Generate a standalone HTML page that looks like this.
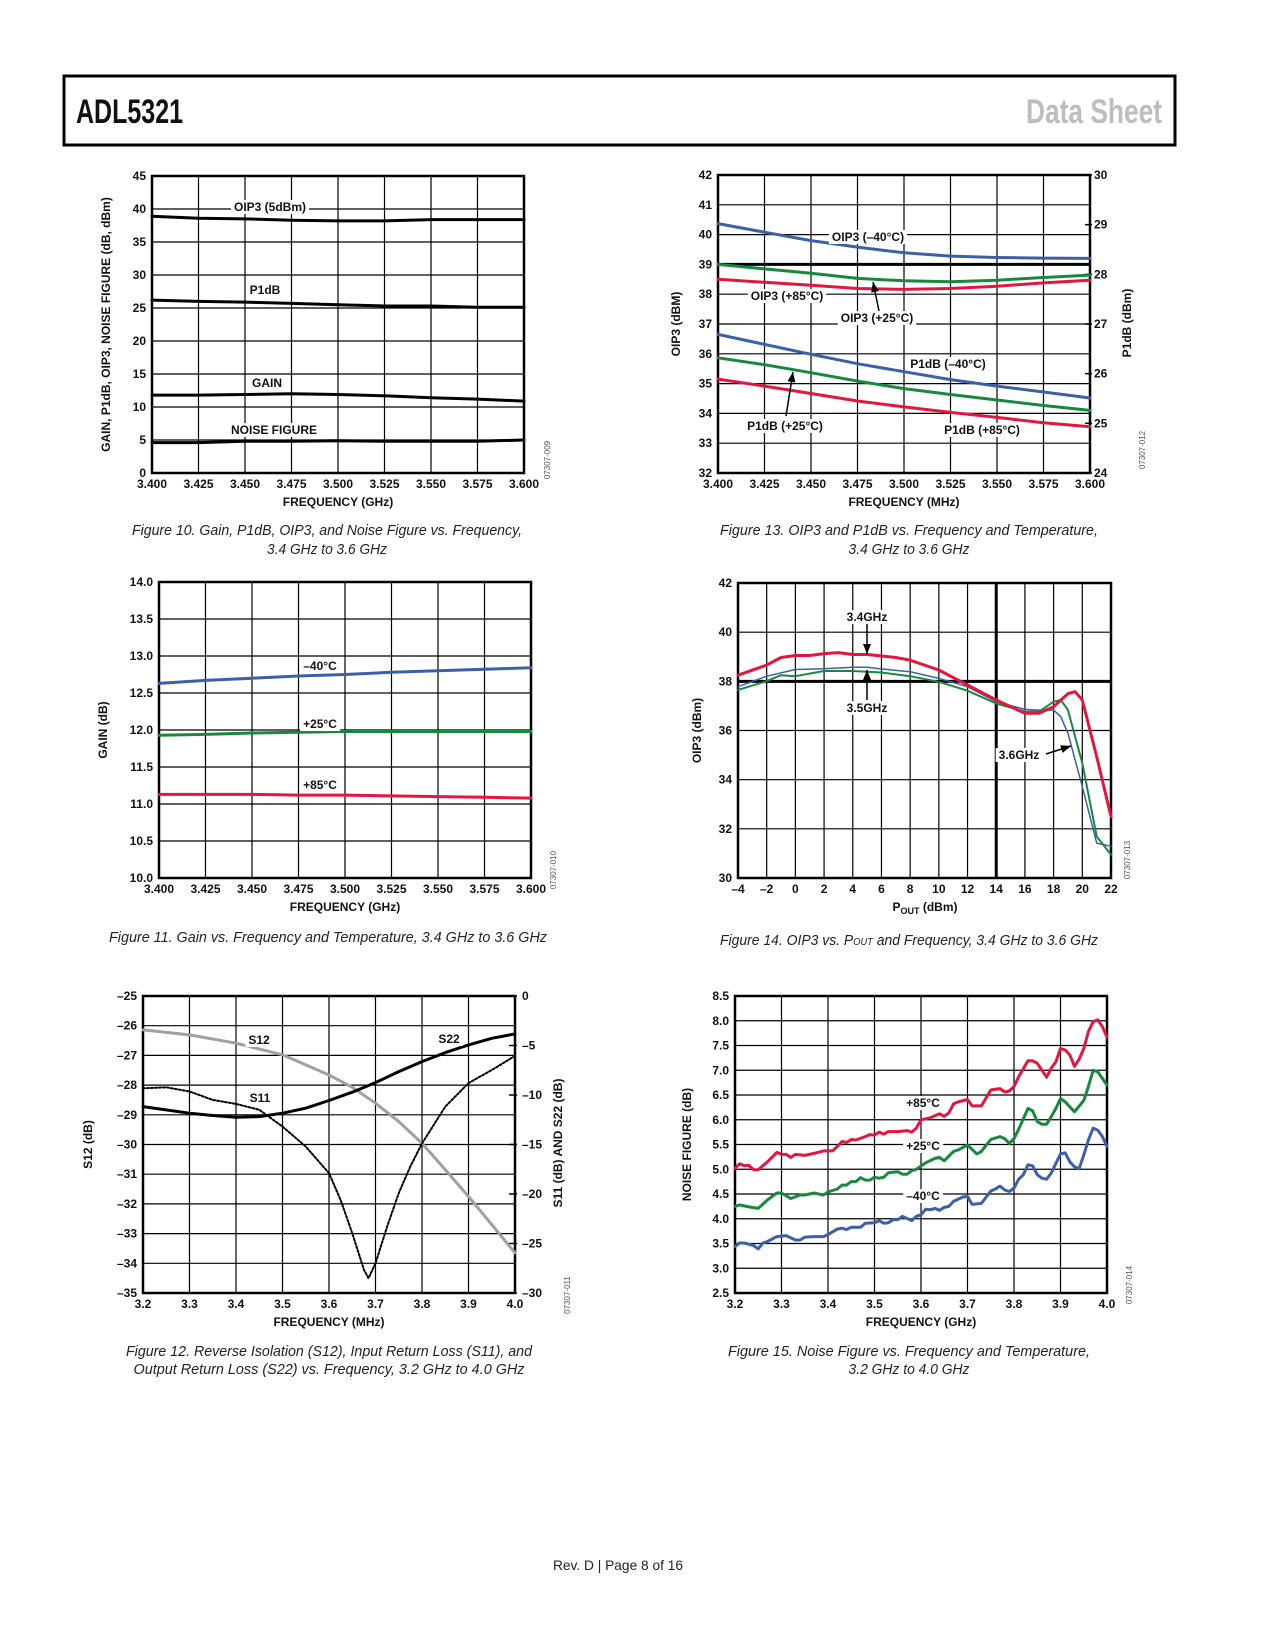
<!DOCTYPE html>
<html><head><meta charset="utf-8">
<style>
html,body{margin:0;padding:0;background:#fff;}
svg{display:block;font-family:"Liberation Sans",Arial,sans-serif;}
.tk{font-size:12px;font-weight:bold;fill:#111;}
.ttl{font-size:12px;font-weight:bold;fill:#111;}
.lbl{font-size:12px;font-weight:bold;fill:#111;}
.cap{font-size:15px;font-style:italic;fill:#222;}
.code{font-size:8px;fill:#555;}
</style></head>
<body>
<svg id="page" width="1275" height="1650" viewBox="0 0 1275 1650" xmlns="http://www.w3.org/2000/svg">
<rect x="0" y="0" width="1275" height="1650" fill="#fff"/>
<g>
<rect x="64" y="76" width="1111" height="69" fill="none" stroke="#000" stroke-width="3"/>
<text x="76" y="123" font-size="34" font-weight="bold" textLength="107" lengthAdjust="spacingAndGlyphs" fill="#111">ADL5321</text>
<text x="1026" y="123" font-size="34" font-weight="bold" textLength="136" lengthAdjust="spacingAndGlyphs" fill="#bdbdbd">Data Sheet</text>
</g>
<text x="618" y="1570" text-anchor="middle" font-size="14" textLength="130" lengthAdjust="spacingAndGlyphs" fill="#222">Rev. D | Page 8 of 16</text>

<g>
<text class="cap" x="327" y="535" text-anchor="middle" textLength="390" lengthAdjust="spacingAndGlyphs">Figure 10. Gain, P1dB, OIP3, and Noise Figure vs. Frequency,</text>
<text class="cap" x="327" y="554" text-anchor="middle" textLength="120" lengthAdjust="spacingAndGlyphs">3.4 GHz to 3.6 GHz</text>
</g>
<g>
<text class="cap" x="909" y="535" text-anchor="middle" textLength="378" lengthAdjust="spacingAndGlyphs">Figure 13. OIP3 and P1dB vs. Frequency and Temperature,</text>
<text class="cap" x="909" y="554" text-anchor="middle" textLength="121" lengthAdjust="spacingAndGlyphs">3.4 GHz to 3.6 GHz</text>
</g>
<g>
<text class="cap" x="328" y="942" text-anchor="middle" textLength="438" lengthAdjust="spacingAndGlyphs">Figure 11. Gain vs. Frequency and Temperature, 3.4 GHz to 3.6 GHz</text>
</g>
<g>
<text class="cap" x="909" y="945" text-anchor="middle" textLength="378" lengthAdjust="spacingAndGlyphs">Figure 14. OIP3 vs. P<tspan font-size="10">OUT</tspan> and Frequency, 3.4 GHz to 3.6 GHz</text>
</g>
<g>
<text class="cap" x="329" y="1356" text-anchor="middle" textLength="406" lengthAdjust="spacingAndGlyphs">Figure 12. Reverse Isolation (S12), Input Return Loss (S11), and</text>
<text class="cap" x="329" y="1374" text-anchor="middle" textLength="391" lengthAdjust="spacingAndGlyphs">Output Return Loss (S22) vs. Frequency, 3.2 GHz to 4.0 GHz</text>
</g>
<g>
<text class="cap" x="909" y="1356" text-anchor="middle" textLength="362" lengthAdjust="spacingAndGlyphs">Figure 15. Noise Figure vs. Frequency and Temperature,</text>
<text class="cap" x="909" y="1374" text-anchor="middle" textLength="121" lengthAdjust="spacingAndGlyphs">3.2 GHz to 4.0 GHz</text>
</g>
</svg>
<script>
// ---------- Figure 10 data ----------
const fig10Freq = [3.400,3.425,3.450,3.475,3.500,3.525,3.550,3.575,3.600];
const fig10Oip3 = [38.9,38.6,38.5,38.3,38.2,38.2,38.4,38.4,38.4];
const fig10P1db = [26.2,26.0,25.9,25.7,25.5,25.3,25.3,25.1,25.1];
const fig10Gain = [11.8,11.8,11.9,12.0,11.9,11.7,11.4,11.2,10.9];
const fig10Nf   = [4.6,4.6,4.8,4.8,4.9,4.8,4.8,4.8,5.0];
const fig10XTicks = [3.400,3.425,3.450,3.475,3.500,3.525,3.550,3.575,3.600];
const fig10YTicks = [0,5,10,15,20,25,30,35,40,45];

// ---------- Figure 13 data ----------
const fig13Freq = [3.400,3.425,3.450,3.475,3.500,3.525,3.550,3.575,3.600];
const fig13Oip3M40 = [40.37,40.08,39.8,39.58,39.39,39.28,39.23,39.21,39.2];
const fig13Oip3P25 = [39.0,38.85,38.7,38.53,38.45,38.42,38.47,38.56,38.64];
const fig13Oip3P85 = [38.5,38.4,38.3,38.19,38.16,38.19,38.27,38.38,38.47];
const fig13P1dbM40 = [26.79,26.59,26.39,26.2,26.04,25.88,25.75,25.63,25.51];
const fig13P1dbP25 = [26.32,26.18,26.02,25.85,25.7,25.58,25.47,25.36,25.26];
const fig13P1dbP85 = [25.89,25.75,25.6,25.45,25.33,25.22,25.12,25.01,24.93];
const fig13XTicks = [3.400,3.425,3.450,3.475,3.500,3.525,3.550,3.575,3.600];
const fig13YTicks = [32,33,34,35,36,37,38,39,40,41,42];
const fig13Y2Ticks = [24,25,26,27,28,29,30];

// ---------- Figure 11 data ----------
const fig11Freq = [3.400,3.425,3.450,3.475,3.500,3.525,3.550,3.575,3.600];
const fig11GainM40 = [12.63,12.67,12.70,12.73,12.75,12.78,12.80,12.82,12.84];
const fig11GainP25 = [11.93,11.94,11.96,11.97,11.98,11.98,11.98,11.98,11.98];
const fig11GainP85 = [11.13,11.13,11.13,11.12,11.12,11.11,11.10,11.09,11.08];
const fig11XTicks = [3.400,3.425,3.450,3.475,3.500,3.525,3.550,3.575,3.600];
const fig11YTicks = [10.0,10.5,11.0,11.5,12.0,12.5,13.0,13.5,14.0];

// ---------- Figure 14 data ----------
const fig14PoutRed = [-4,-2,-1,0,1,2,3,4,5,6,7,8,10,12,14,16,17,18,19,19.5,20,21,22];
const fig14Oip3Red = [38.25,38.66,38.97,39.05,39.05,39.13,39.17,39.09,39.09,39.03,38.97,38.86,38.46,37.85,37.24,36.7,36.7,36.97,37.5,37.58,37.24,34.94,32.5];
const fig14PoutBlue = [-4,-2,0,2,4,5,6,8,10,12,14,16,17,18,18.5,19,20,21,22];
const fig14Oip3Blue = [37.78,38.21,38.48,38.51,38.57,38.57,38.5,38.39,38.12,37.78,37.17,36.86,36.83,36.83,36.56,35.88,33.72,31.42,31.29];
const fig14PoutGreen = [-4,-2,-1,0,2,4,6,8,10,12,14,16,17,18,18.5,19,20,21,22];
const fig14Oip3Green = [37.65,38.01,38.25,38.21,38.42,38.42,38.36,38.21,37.98,37.62,37.1,36.77,36.77,37.17,37.24,36.83,34.67,31.69,30.95];
const fig14XTicks = [-4,-2,0,2,4,6,8,10,12,14,16,18,20,22];
const fig14YTicks = [30,32,34,36,38,40,42];

// ---------- Figure 12 data ----------
const fig12S12Freq = [3.2,3.3,3.4,3.5,3.6,3.65,3.7,3.75,3.8,3.85,3.9,3.95,4.0];
const fig12S12 = [-26.14,-26.31,-26.59,-26.98,-27.66,-28.07,-28.61,-29.23,-29.96,-30.85,-31.75,-32.7,-33.65];
const fig12S22Freq = [3.2,3.3,3.35,3.4,3.45,3.5,3.55,3.6,3.65,3.7,3.75,3.8,3.85,3.9,3.95,4.0];
const fig12S22 = [-11.17,-11.84,-12.07,-12.24,-12.18,-11.84,-11.33,-10.56,-9.72,-8.75,-7.64,-6.63,-5.72,-4.94,-4.27,-3.83];
const fig12S11Freq = [3.2,3.25,3.3,3.35,3.4,3.45,3.5,3.55,3.6,3.625,3.65,3.675,3.685,3.7,3.725,3.75,3.775,3.8,3.85,3.9,3.95,4.0];
const fig12S11 = [-9.32,-9.22,-9.65,-10.49,-10.9,-11.5,-13.19,-15.2,-17.9,-20.6,-23.95,-27.65,-28.5,-27.0,-23.3,-19.9,-17.2,-14.9,-11.17,-8.8,-7.47,-6.05];
const fig12XTicks = [3.2,3.3,3.4,3.5,3.6,3.7,3.8,3.9,4.0];
const fig12YTicks = [-35,-34,-33,-32,-31,-30,-29,-28,-27,-26,-25];
const fig12Y2Ticks = [0,-5,-10,-15,-20,-25,-30];

// ---------- Figure 15 data ----------
const fig15FreqRed = [3.20,3.21,3.22,3.23,3.24,3.25,3.27,3.29,3.30,3.31,3.32,3.33,3.35,3.37,3.39,3.41,3.42,3.43,3.44,3.45,3.46,3.48,3.49,3.50,3.51,3.52,3.53,3.55,3.57,3.58,3.59,3.60,3.62,3.64,3.65,3.66,3.67,3.68,3.70,3.71,3.73,3.75,3.77,3.78,3.79,3.80,3.81,3.83,3.84,3.85,3.87,3.88,3.89,3.90,3.91,3.92,3.93,3.94,3.95,3.96,3.97,3.98,3.99,4.00];
const fig15NfRed = [5.02,5.11,5.07,5.08,4.99,4.99,5.15,5.34,5.30,5.30,5.24,5.30,5.28,5.32,5.37,5.37,5.46,5.56,5.54,5.60,5.59,5.66,5.70,5.69,5.75,5.71,5.76,5.76,5.78,5.75,5.83,6.00,6.04,6.12,6.07,6.14,6.32,6.36,6.41,6.28,6.28,6.60,6.63,6.56,6.58,6.67,6.87,7.19,7.19,7.14,6.86,7.04,7.17,7.44,7.41,7.31,7.08,7.22,7.44,7.78,7.98,8.02,7.88,7.67];
const fig15FreqGreen = [3.20,3.21,3.23,3.25,3.27,3.29,3.30,3.32,3.34,3.35,3.37,3.39,3.40,3.42,3.43,3.44,3.45,3.46,3.47,3.48,3.49,3.50,3.51,3.52,3.53,3.55,3.56,3.57,3.58,3.59,3.61,3.63,3.64,3.65,3.67,3.68,3.70,3.72,3.73,3.75,3.77,3.78,3.79,3.80,3.81,3.83,3.84,3.85,3.86,3.87,3.88,3.89,3.90,3.91,3.93,3.95,3.96,3.97,3.98,4.00];
const fig15NfGreen = [4.25,4.28,4.24,4.21,4.38,4.52,4.52,4.41,4.48,4.48,4.52,4.48,4.54,4.60,4.68,4.68,4.75,4.75,4.83,4.78,4.78,4.84,4.82,4.84,4.93,4.95,4.90,4.90,4.97,5.00,5.13,5.22,5.24,5.17,5.36,5.39,5.49,5.31,5.36,5.60,5.66,5.62,5.52,5.62,5.81,6.23,6.18,5.96,5.91,5.91,6.06,6.23,6.43,6.36,6.16,6.39,6.67,7.00,6.97,6.70];
const fig15FreqBlue = [3.20,3.21,3.22,3.24,3.25,3.26,3.27,3.28,3.29,3.31,3.33,3.34,3.35,3.37,3.39,3.40,3.42,3.43,3.44,3.45,3.47,3.48,3.50,3.51,3.52,3.53,3.54,3.55,3.56,3.58,3.59,3.60,3.61,3.62,3.63,3.64,3.65,3.66,3.67,3.69,3.70,3.71,3.73,3.75,3.76,3.77,3.78,3.79,3.80,3.81,3.82,3.83,3.84,3.85,3.86,3.87,3.88,3.89,3.90,3.91,3.92,3.93,3.94,3.95,3.96,3.97,3.98,3.99,4.00];
const fig15NfBlue = [3.44,3.51,3.51,3.46,3.39,3.51,3.54,3.59,3.64,3.66,3.57,3.57,3.63,3.64,3.64,3.68,3.79,3.81,3.78,3.83,3.83,3.91,3.92,3.96,3.91,3.92,3.98,3.98,4.05,3.96,4.05,4.08,4.19,4.18,4.21,4.17,4.23,4.25,4.35,4.44,4.45,4.29,4.31,4.56,4.60,4.66,4.58,4.55,4.62,4.80,4.89,5.09,5.07,4.89,4.82,4.80,4.92,5.12,5.31,5.33,5.15,5.05,5.01,5.29,5.59,5.83,5.79,5.66,5.46];
const fig15XTicks = [3.2,3.3,3.4,3.5,3.6,3.7,3.8,3.9,4.0];
const fig15YTicks = [2.5,3.0,3.5,4.0,4.5,5.0,5.5,6.0,6.5,7.0,7.5,8.0,8.5];

const svg = document.getElementById('page');
const NS = 'http://www.w3.org/2000/svg';
const BLUE = '#3d5fa6', GREEN = '#16893f', RED = '#e2163f';

function mk(tag, attrs, parent) {
  const e = document.createElementNS(NS, tag);
  for (const k in attrs) e.setAttribute(k, attrs[k]);
  (parent || svg).appendChild(e);
  return e;
}
function lin(d0, d1, r0, r1) { return v => r0 + (v - d0) / (d1 - d0) * (r1 - r0); }
function fmtNum(v, dec) { const s = Math.abs(v).toFixed(dec); return (v < 0 ? '\u2013' : '') + s; }

function text(g, x, y, s, cls, anchor) {
  const t = mk('text', {x: x, y: y, class: cls, 'text-anchor': anchor || 'middle'}, g);
  t.textContent = s;
  return t;
}
function boxedLabel(g, cx, cy, s) {
  const bg = mk('rect', {fill: '#fff'}, g);
  
  
  const t = text(g, cx, cy + 4, s, 'lbl');
  
  
  const b = t.getBBox();
  bg.setAttribute('x', b.x - 3); bg.setAttribute('y', b.y);
  bg.setAttribute('width', b.width + 6); bg.setAttribute('height', b.height);
  return t;
}
function arrow(g, x1, y1, x2, y2) {
  const l = mk('line', {x1: x1, y1: y1, x2: x2, y2: y2, stroke: '#000', 'stroke-width': 1.5}, g);
  
  
  const a = Math.atan2(y2 - y1, x2 - x1), L = 10, W = 4;
  const bx = x2 - L * Math.cos(a), by = y2 - L * Math.sin(a);
  const p = [[x2, y2], [bx + W * Math.sin(a), by - W * Math.cos(a)], [bx - W * Math.sin(a), by + W * Math.cos(a)]];
  const h = mk('polygon', {points: p.map(q => q.join(',')).join(' '), fill: '#000'}, g);
  
  
}
function series(g, xs, ys, sx, sy, color, width, dash) {
  const pts = xs.map((x, i) => sx(x).toFixed(1) + ',' + sy(ys[i]).toFixed(1)).join(' ');
  const attrs = {points: pts, fill: 'none', stroke: color, 'stroke-width': width, 'stroke-linejoin': 'round', 'stroke-linecap': 'round'};
  if (dash) attrs['stroke-dasharray'] = dash;
  return mk('polyline', attrs, g);
}
// generic frame: grid + ticks labels
function frame(g, c, xTicks, yTicks, xDec, yDec, sx, sy) {
  yTicks.forEach(v => {
    const gl = mk('line', {x1: c.l, x2: c.r, y1: sy(v), y2: sy(v), stroke: '#000', 'stroke-width': 1.2}, g);
    
    
    const t = text(g, c.l - 6, sy(v) + 4, fmtNum(v, yDec), 'tk', 'end');
    
    
  });
  xTicks.forEach(v => {
    const gl = mk('line', {x1: sx(v), x2: sx(v), y1: c.t, y2: c.b, stroke: '#000', 'stroke-width': 1.2}, g);
    
    
    const t = text(g, sx(v), c.b + 15, fmtNum(v, xDec), 'tk');
    
    
  });
  const f = mk('rect', {x: c.l, y: c.t, width: c.r - c.l, height: c.b - c.t, fill: 'none', stroke: '#000', 'stroke-width': 2.5}, g);
  
  
}
function titles(g, c, xTitle, yTitle, yx, code, codeX, codeY) {
  const xt = text(g, (c.l + c.r) / 2, c.b + 33, xTitle, 'ttl');
  
  
  const cy = (c.t + c.b) / 2;
  const yt = text(g, yx, cy, yTitle, 'ttl');
  yt.setAttribute('transform', 'rotate(-90 ' + yx + ' ' + cy + ')');
  
  
  const ct = text(g, codeX, codeY, code, 'code');
  ct.setAttribute('transform', 'rotate(-90 ' + codeX + ' ' + codeY + ')');
  
  
  return yt;
}

// ================= Figure 10 =================
(function () {
  const c = {l: 152, r: 524, t: 176, b: 473};
  const g = mk('g', {});
  
  
  const sx = lin(3.4, 3.6, c.l, c.r), sy = lin(0, 45, c.b, c.t);
  frame(g, c, fig10XTicks, fig10YTicks, 3, 0, sx, sy);
  titles(g, c, 'FREQUENCY (GHz)', 'GAIN, P1dB, OIP3, NOISE FIGURE (dB, dBm)', 110, '07307-009', 550, 460);
  let s;
  s = series(g, fig10Freq, fig10Oip3, sx, sy, '#000', 3);
   
  s = series(g, fig10Freq, fig10P1db, sx, sy, '#000', 3);
   
  s = series(g, fig10Freq, fig10Gain, sx, sy, '#000', 3);
   
  s = series(g, fig10Freq, fig10Nf, sx, sy, '#000', 3);
   
  boxedLabel(g, 270, 207, 'OIP3 (5dBm)');
  boxedLabel(g, 265, 290, 'P1dB');
  boxedLabel(g, 267, 383, 'GAIN');
  boxedLabel(g, 274, 430, 'NOISE FIGURE');
})();

// ================= Figure 13 =================
(function () {
  const c = {l: 718, r: 1090, t: 175, b: 473};
  const g = mk('g', {});
  
  
  const sx = lin(3.4, 3.6, c.l, c.r), sy = lin(32, 42, c.b, c.t), sy2 = lin(24, 30, c.b, c.t);
  frame(g, c, fig13XTicks, fig13YTicks, 3, 0, sx, sy);
  const thick = mk('line', {x1: c.l, x2: c.r, y1: sy(39), y2: sy(39), stroke: '#000', 'stroke-width': 3}, g);
  
  
  fig13Y2Ticks.forEach(v => {
    const tk = mk('line', {x1: c.r - 5, x2: c.r + 2, y1: sy2(v), y2: sy2(v), stroke: '#000', 'stroke-width': 1.5}, g);
    
    
    const t = text(g, c.r + 4, sy2(v) + 4, String(v), 'tk', 'start');
    
    
  });
  titles(g, c, 'FREQUENCY (MHz)', 'OIP3 (dBM)', 680, '07307-012', 1145, 450);
  const rt = text(g, 1131, 323, 'P1dB (dBm)', 'ttl');
  rt.setAttribute('transform', 'rotate(-90 1131 323)');
  
  
  let s;
  s = series(g, fig13Freq, fig13Oip3M40, sx, sy, BLUE, 3);
   
  s = series(g, fig13Freq, fig13Oip3P25, sx, sy, GREEN, 3);
   
  s = series(g, fig13Freq, fig13Oip3P85, sx, sy, RED, 3);
   
  s = series(g, fig13Freq, fig13P1dbM40, sx, sy2, BLUE, 3);
   
  s = series(g, fig13Freq, fig13P1dbP25, sx, sy2, GREEN, 3);
   
  s = series(g, fig13Freq, fig13P1dbP85, sx, sy2, RED, 3);
   
  boxedLabel(g, 868, 237, 'OIP3 (\u201340\u00B0C)');
  boxedLabel(g, 787, 296, 'OIP3 (+85\u00B0C)');
  boxedLabel(g, 877, 318, 'OIP3 (+25\u00B0C)');
  boxedLabel(g, 948, 364, 'P1dB (\u201340\u00B0C)');
  boxedLabel(g, 785, 426, 'P1dB (+25\u00B0C)');
  boxedLabel(g, 982, 430, 'P1dB (+85\u00B0C)');
  arrow(g, 879, 311, 873, 282);
  arrow(g, 786, 416, 793, 372);
})();

// ================= Figure 11 =================
(function () {
  const c = {l: 159, r: 531, t: 582, b: 878};
  const g = mk('g', {});
  
  
  const sx = lin(3.4, 3.6, c.l, c.r), sy = lin(10, 14, c.b, c.t);
  frame(g, c, fig11XTicks, fig11YTicks, 3, 1, sx, sy);
  titles(g, c, 'FREQUENCY (GHz)', 'GAIN (dB)', 107, '07307-010', 556, 870);
  let s;
  s = series(g, fig11Freq, fig11GainM40, sx, sy, BLUE, 3);
   
  s = series(g, fig11Freq, fig11GainP25, sx, sy, GREEN, 3);
   
  s = series(g, fig11Freq, fig11GainP85, sx, sy, RED, 3);
   
  boxedLabel(g, 320, 666, '\u201340\u00B0C');
  boxedLabel(g, 320, 724, '+25\u00B0C');
  boxedLabel(g, 320, 785, '+85\u00B0C');
})();

// ================= Figure 14 =================
(function () {
  const c = {l: 738, r: 1111, t: 583, b: 878};
  const g = mk('g', {});
  
  
  const sx = lin(-4, 22, c.l, c.r), sy = lin(30, 42, c.b, c.t);
  frame(g, c, fig14XTicks, fig14YTicks, 0, 0, sx, sy);
  let tl = mk('line', {x1: c.l, x2: c.r, y1: sy(38), y2: sy(38), stroke: '#000', 'stroke-width': 3}, g);
  
  
  tl = mk('line', {x1: sx(14), x2: sx(14), y1: c.t, y2: c.b, stroke: '#000', 'stroke-width': 3}, g);
  
  
  const yt = titles(g, c, '', 'OIP3 (dBm)', 701, '07307-013', 1130, 860);
  const xt = mk('text', {x: 925, y: 911, class: 'ttl', 'text-anchor': 'middle'}, g);
  
  
  xt.innerHTML = 'P<tspan font-size="9" dy="3">OUT</tspan><tspan dy="-3"> (dBm)</tspan>';
  let s;
  s = series(g, fig14PoutGreen, fig14Oip3Green, sx, sy, GREEN, 2);
   
  s = series(g, fig14PoutBlue, fig14Oip3Blue, sx, sy, BLUE, 1.5);
   
  s = series(g, fig14PoutRed, fig14Oip3Red, sx, sy, RED, 3);
   
  boxedLabel(g, 867, 617, '3.4GHz');
  boxedLabel(g, 867, 708, '3.5GHz');
  boxedLabel(g, 1019, 755, '3.6GHz');
  arrow(g, 867, 624, 867, 654);
  arrow(g, 867, 700, 867, 670);
  arrow(g, 1046, 754, 1071, 746);
})();

// ================= Figure 12 =================
(function () {
  const c = {l: 143, r: 515, t: 996, b: 1293};
  const g = mk('g', {});
  
  
  const sx = lin(3.2, 4.0, c.l, c.r), sy = lin(-35, -25, c.b, c.t), sy2 = lin(-30, 0, c.b, c.t);
  frame(g, c, fig12XTicks, fig12YTicks, 1, 0, sx, sy);
  fig12Y2Ticks.forEach(v => {
    const tk = mk('line', {x1: c.r - 6, x2: c.r + 2, y1: sy2(v), y2: sy2(v), stroke: '#000', 'stroke-width': 1.5}, g);
    
    
    const t = text(g, c.r + 7, sy2(v) + 4, fmtNum(v, 0), 'tk', 'start');
    
    
  });
  titles(g, c, 'FREQUENCY (MHz)', 'S12 (dB)', 92, '07307-011', 570, 1295);
  const rt = text(g, 562, 1143, 'S11 (dB) AND S22 (dB)', 'ttl');
  rt.setAttribute('transform', 'rotate(-90 562 1143)');
  
  
  let s;
  s = series(g, fig12S12Freq, fig12S12, sx, sy, '#a0a0a0', 3);
   
  s = series(g, fig12S11Freq, fig12S11, sx, sy2, '#000', 2, '2 2');
   
  s = series(g, fig12S22Freq, fig12S22, sx, sy2, '#000', 3);
   
  boxedLabel(g, 259, 1040, 'S12');
  boxedLabel(g, 260, 1098, 'S11');
  boxedLabel(g, 449, 1039, 'S22');
})();

// ================= Figure 15 =================
(function () {
  const c = {l: 735, r: 1107, t: 996, b: 1293};
  const g = mk('g', {});
  
  
  const sx = lin(3.2, 4.0, c.l, c.r), sy = lin(2.5, 8.5, c.b, c.t);
  frame(g, c, fig15XTicks, fig15YTicks, 1, 1, sx, sy);
  titles(g, c, 'FREQUENCY (GHz)', 'NOISE FIGURE (dB)', 691, '07307-014', 1132, 1285);
  let s;
  s = series(g, fig15FreqRed, fig15NfRed, sx, sy, RED, 3);
   
  s = series(g, fig15FreqGreen, fig15NfGreen, sx, sy, GREEN, 3);
   
  s = series(g, fig15FreqBlue, fig15NfBlue, sx, sy, BLUE, 3);
   
  boxedLabel(g, 923, 1103, '+85\u00B0C');
  boxedLabel(g, 923, 1146, '+25\u00B0C');
  boxedLabel(g, 923, 1196, '\u201340\u00B0C');
})();
</script>
</body></html>
